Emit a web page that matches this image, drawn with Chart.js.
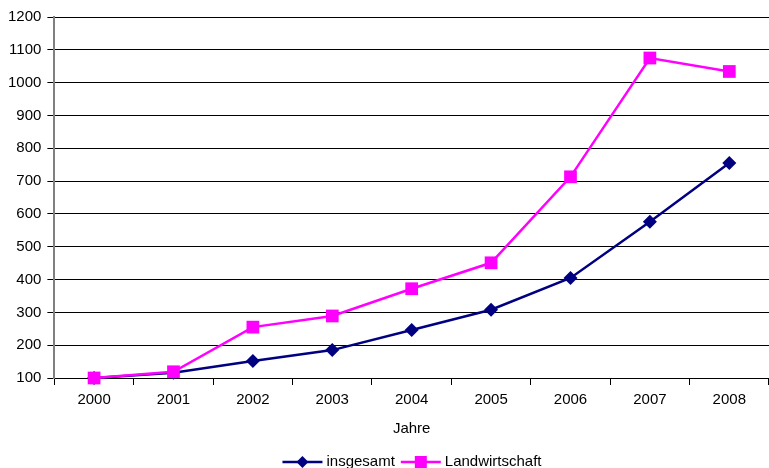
<!DOCTYPE html>
<html><head><meta charset="utf-8">
<script src="https://cdn.jsdelivr.net/npm/chart.js@4/dist/chart.umd.min.js"></script>
<style>html,body{margin:0;padding:0;background:#fff;}canvas{display:block;}</style>
</head><body>
<canvas id="c" width="769" height="468"></canvas>
<script>
const years = ['2000','2001','2002','2003','2004','2005','2006','2007','2008'];
const insgesamt = [100, 116, 152, 185, 246, 308, 405, 576, 755];
const landwirtschaft = [100, 119, 255, 289, 372, 451, 713, 1075, 1034];
const seriesNames = ['insgesamt', 'Landwirtschaft'];
const xTitle = 'Jahre';

const FONT = 'Liberation Sans, Arial, sans-serif';
const FS = 15;

const legendPlugin = {
  id: 'customLegend',
  afterDraw(chart) {
    const ctx = chart.ctx;
    const items = chart.data.datasets.map(d => ({label: d.label, color: d.borderColor, style: d.pointStyle}));
    ctx.save();
    ctx.font = FS + 'px ' + FONT;
    const lineW = 40, gap = 4, between = 6;
    let total = 0;
    items.forEach((it, i) => { it.tw = ctx.measureText(it.label).width; total += lineW + gap + it.tw + (i ? between : 0); });
    let x = 412 - total / 2;
    const y = 462;
    items.forEach((it, i) => {
      if (i) x += between;
      ctx.strokeStyle = it.color; ctx.lineWidth = 2.5;
      ctx.beginPath(); ctx.moveTo(x, y); ctx.lineTo(x + lineW, y); ctx.stroke();
      ctx.fillStyle = it.color;
      const cx = x + lineW / 2;
      ctx.beginPath();
      if (it.style === 'rectRot') {
        const r = 6; ctx.moveTo(cx, y - r); ctx.lineTo(cx + r, y); ctx.lineTo(cx, y + r); ctx.lineTo(cx - r, y); ctx.closePath();
      } else {
        const s = 6; ctx.rect(cx - s, y - s, 2 * s, 2 * s);
      }
      ctx.fill();
      x += lineW + gap;
      ctx.fillStyle = '#000'; ctx.textBaseline = 'middle'; ctx.textAlign = 'left';
      ctx.fillText(it.label, x, y);
      x += it.tw;
    });
    ctx.restore();
  }
};

new Chart(document.getElementById('c'), {
  type: 'line',
  data: {
    labels: years,
    datasets: [
      {label: seriesNames[0], data: insgesamt, borderColor: '#000080', backgroundColor: '#000080',
       borderWidth: 2.5, pointStyle: 'rectRot', pointRadius: 7, pointBorderWidth: 0, tension: 0, order: 1, clip: false},
      {label: seriesNames[1], data: landwirtschaft, borderColor: '#FF00FF', backgroundColor: '#FF00FF',
       borderWidth: 2.5, pointStyle: 'rect', pointRadius: 9, pointBorderWidth: 0, tension: 0, order: 0, clip: false}
    ]
  },
  options: {
    responsive: false,
    animation: false,
    layout: {autoPadding: false, padding: {left: 2, right: -8, top: 17, bottom: 30}},
    plugins: {legend: {display: false}, tooltip: {enabled: false}},
    scales: {
      x: {
        offset: true,
        afterFit(s) { s.paddingLeft = 0; s.paddingRight = 0; },
        grid: {offset: true, drawOnChartArea: false, drawTicks: true, tickLength: 7, color: '#000'},
        border: {color: '#000', width: 1},
        ticks: {color: '#000', font: {family: FONT, size: FS}, padding: 6, maxRotation: 0},
        title: {display: true, text: xTitle, color: '#000', font: {family: FONT, size: FS}, padding: {top: 5, bottom: 0}}
      },
      y: {
        min: 100, max: 1200,
        afterFit(s) { s.paddingTop = 0; s.paddingBottom = 0; },
        ticks: {stepSize: 100, color: '#000', font: {family: FONT, size: FS}, padding: 6,
                callback: v => String(v)},
        grid: {color: '#000', lineWidth: 1, tickLength: 7},
        border: {color: '#808080', width: 2}
      }
    }
  },
  plugins: [legendPlugin]
});
</script>
</body></html>
